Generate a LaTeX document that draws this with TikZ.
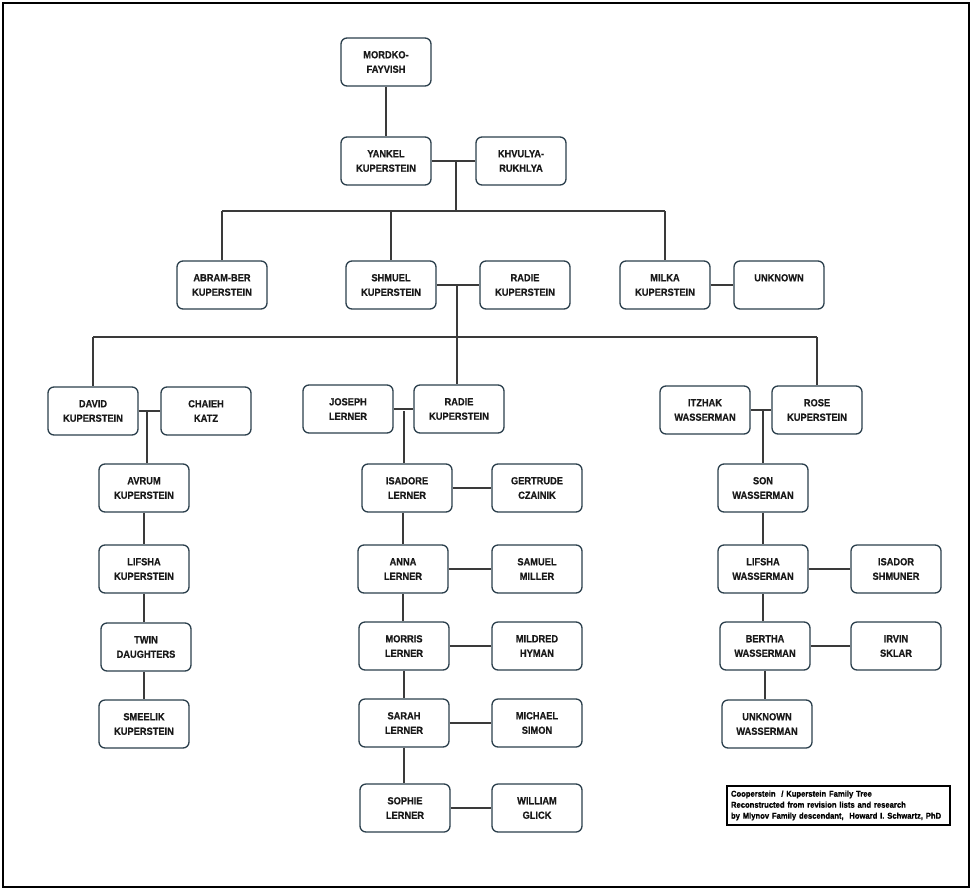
\documentclass[tikz,border=0pt]{standalone}
\usepackage{fontspec}
\setmainfont{Liberation Sans}[FakeStretch=0.9, BoldFeatures={FakeBold=0.6}]

\definecolor{boxline}{HTML}{2B3F4C}
\definecolor{linkline}{HTML}{3A3A3A}

\tikzset{
  person/.style={draw=boxline, line width=1.3pt, rounded corners=6pt, fill=white,
    minimum width=90pt, minimum height=48pt, inner sep=2pt, align=center,
    text=black!90, font=\bfseries\fontsize{10.3}{14.5}\selectfont},
  link/.style={draw=linkline, line width=1.3pt},
  capbox/.style={draw=black, line width=1.3pt, minimum width=223pt, minimum height=39pt,
    inner sep=4pt, text width=215pt, align=left,
    font=\bfseries\fontsize{8.5}{11}\selectfont},
}

\begin{document}
\begin{tikzpicture}[x=1pt,y=-1pt]
        \useasboundingbox (0,0) rectangle (973,891);
        \draw[line width=2pt] (3,3) rectangle (969,887);

        \begin{scope}[every node/.style={person}]
          \node (mordko)   at (386,62)  {MORDKO-\\FAYVISH};
          \node (yankel)   at (386,161) {YANKEL\\KUPERSTEIN};
          \node (khvulya)  at (521,161) {KHVULYA-\\RUKHLYA};
          \node (abram)    at (222,285) {ABRAM-BER\\KUPERSTEIN};
          \node (shmuel)   at (391,285) {SHMUEL\\KUPERSTEIN};
          \node (radieA)   at (525,285) {RADIE\\KUPERSTEIN};
          \node (milka)    at (665,285) {MILKA\\KUPERSTEIN};
          \node (unknownA) at (779,285) {UNKNOWN\\~};
          \node (david)    at (93,411)  {DAVID\\KUPERSTEIN};
          \node (chaieh)   at (206,411) {CHAIEH\\KATZ};
          \node (joseph)   at (348,409) {JOSEPH\\LERNER};
          \node (radieB)   at (459,409) {RADIE\\KUPERSTEIN};
          \node (itzhak)   at (705,410) {ITZHAK\\WASSERMAN};
          \node (rose)     at (817,410) {ROSE\\KUPERSTEIN};
          \node (avrum)    at (144,488) {AVRUM\\KUPERSTEIN};
          \node (lifshaK)  at (144,569) {LIFSHA\\KUPERSTEIN};
          \node (twin)     at (146,647) {TWIN\\DAUGHTERS};
          \node (smeelik)  at (144,724) {SMEELIK\\KUPERSTEIN};
          \node (isadore)  at (407,488) {ISADORE\\LERNER};
          \node (gertrude) at (537,488) {GERTRUDE\\CZAINIK};
          \node (anna)     at (403,569) {ANNA\\LERNER};
          \node (samuel)   at (537,569) {SAMUEL\\MILLER};
          \node (morris)   at (404,646) {MORRIS\\LERNER};
          \node (mildred)  at (537,646) {MILDRED\\HYMAN};
          \node (sarah)    at (404,723) {SARAH\\LERNER};
          \node (michael)  at (537,723) {MICHAEL\\SIMON};
          \node (sophie)   at (405,808) {SOPHIE\\LERNER};
          \node (william)  at (537,808) {WILLIAM\\GLICK};
          \node (son)      at (763,488) {SON\\WASSERMAN};
          \node (lifshaW)  at (763,569) {LIFSHA\\WASSERMAN};
          \node (isador)   at (896,569) {ISADOR\\SHMUNER};
          \node (bertha)   at (765,646) {BERTHA\\WASSERMAN};
          \node (irvin)    at (896,646) {IRVIN\\SKLAR};
          \node (unknownW) at (767,724) {UNKNOWN\\WASSERMAN};
        \end{scope}

        % marriage points and sibling bars
        \coordinate (m1)   at (456,161);
        \coordinate (bar1) at (456,211);
        \coordinate (m2)   at (457,286);
        \coordinate (bar2) at (457,337);
        \coordinate (m3)   at (147,412);
        \coordinate (m4)   at (404,411);
        \coordinate (m5)   at (763,411);

        \begin{scope}[every edge/.style={link}]
          \path (mordko)  edge (yankel);
          \path (yankel)  edge (khvulya);
          \path (m1)      edge (bar1);
          \path (abram.north |- bar1) edge (milka.north |- bar1);
          \path (abram.north |- bar1)  edge (abram.north);
          \path (shmuel.north |- bar1) edge (shmuel.north);
          \path (milka.north |- bar1)  edge (milka.north);
          \path (shmuel)  edge (radieA);
          \path (milka)   edge (unknownA);
          \path (m2)      edge (bar2);
          \path (david.north |- bar2) edge (rose.north |- bar2);
          \path (david.north |- bar2) edge (david.north);
          \path (bar2)    edge (bar2 |- radieB.north);
          \path (rose.north |- bar2)  edge (rose.north);

          % left line
          \path (david)   edge (chaieh);
          \path (m3)      edge (m3 |- avrum.north);
          \path (avrum)   edge (lifshaK);
          \path (lifshaK.south) edge (lifshaK.south |- twin.north);
          \path (smeelik.north |- twin.south) edge (smeelik.north);

          % middle line
          \path (joseph)  edge (radieB);
          \path (m4)      edge (m4 |- isadore.north);
          \path (anna.north |- isadore.south) edge (anna.north);
          \path (anna.south) edge (anna.south |- morris.north);
          \path (morris)  edge (sarah);
          \path (sarah.south) edge (sarah.south |- sophie.north);
          \path (isadore) edge (gertrude);
          \path (anna)    edge (samuel);
          \path (morris)  edge (mildred);
          \path (sarah)   edge (michael);
          \path (sophie)  edge (william);

          % right line
          \path (itzhak)  edge (rose);
          \path (m5)      edge (m5 |- son.north);
          \path (son)     edge (lifshaW);
          \path (lifshaW.south) edge (lifshaW.south |- bertha.north);
          \path (bertha.south)  edge (bertha.south |- unknownW.north);
          \path (lifshaW) edge (isador);
          \path (bertha)  edge (irvin);
        \end{scope}

        \node[capbox] (caption) at (838.5,805.5)
          {Cooperstein\ \ / Kuperstein Family Tree\\
           Reconstructed from revision lists and research\\
           by Mlynov Family descendant,\ \ Howard I. Schwartz, PhD};

      \end{tikzpicture}
\end{document}
